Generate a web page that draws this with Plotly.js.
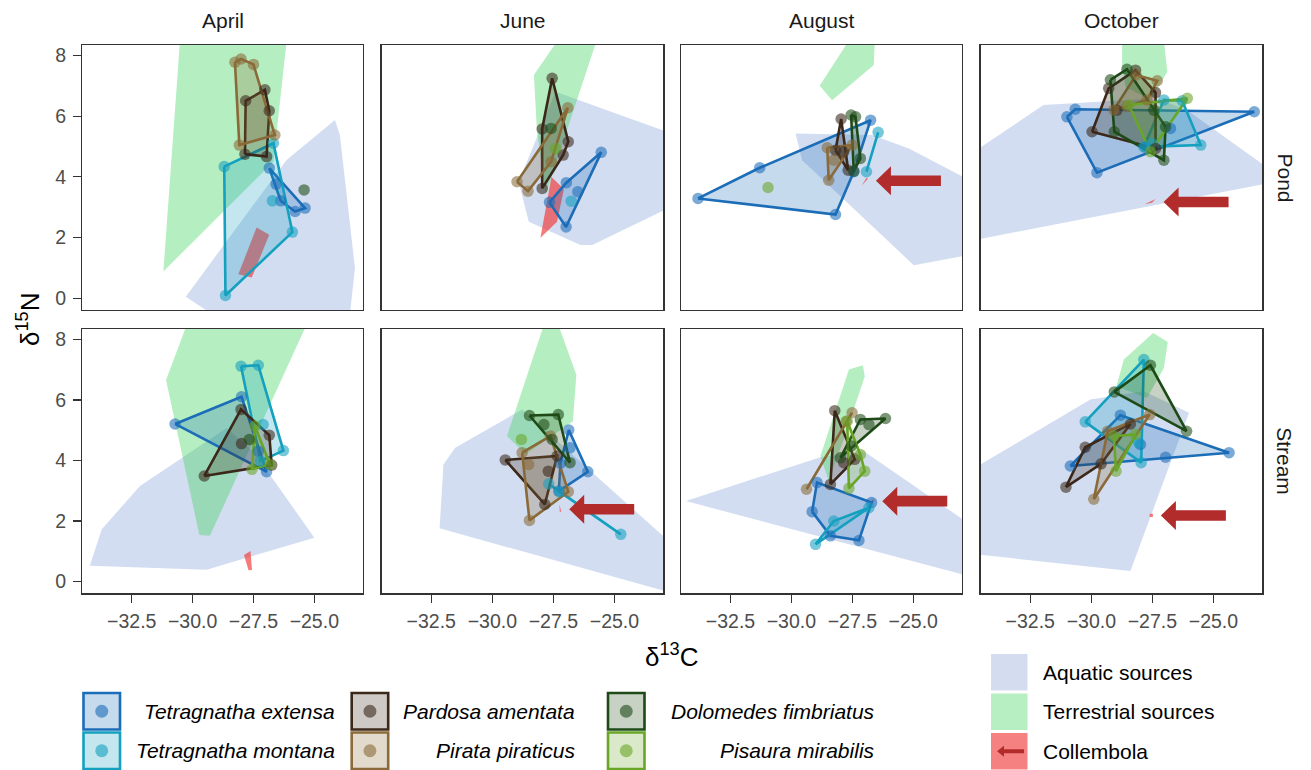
<!DOCTYPE html>
<html><head><meta charset="utf-8">
<script src="https://cdn.plot.ly/plotly-3.0.1.min.js"></script>
<style>body{margin:0;background:#fff}#chart{width:1311px;height:770px}</style>
</head><body><div id="chart"></div>
<script>
// ---------------- DATA (panel: 1-4 = Pond Apr..Oct, 5-8 = Stream Apr..Oct) ----------------
const months = ['April','June','August','October'];
const sites = ['Pond','Stream'];
const speciesNames = ['Tetragnatha extensa','Tetragnatha montana','Pardosa amentata','Pirata piraticus','Dolomedes fimbriatus','Pisaura mirabilis'];
const sourceNames = ['Aquatic sources','Terrestrial sources','Collembola'];

const extensaPanel = [1,1,1,1,1, 2,2,2,2,2, 3,3,3,3,3, 4,4,4,4,4,4, 5,5,5,5, 6,6,6,6,6, 7,7,7,7,7, 8,8,8,8,8];
const extensaC = [-26.85,-26.57,-26.38,-25.79,-25.38, -25.54,-26.97,-26.50,-27.66,-26.98, -33.83,-31.30,-26.75,-28.19,-27.44, -31.00,-30.66,-23.33,-29.77,-26.76,-27.78, -30.72,-27.99,-26.96,-27.30, -26.87,-26.09,-27.21,-27.28,-26.82, -28.95,-29.15,-28.40,-27.23,-26.71, -30.86,-28.81,-24.36,-26.96,-27.99];
const extensaN = [4.29,3.76,3.21,2.86,2.97, 4.81,3.81,3.51,3.16,2.35, 3.29,4.30,5.87,2.76,4.17, 5.98,6.23,6.15,4.14,5.60,4.99, 5.21,6.11,3.63,4.31, 5.01,3.63,3.91,2.99,4.42, 3.27,2.31,1.51,1.36,2.61, 3.82,5.50,4.26,4.11,4.53];

const montanaPanel = [1,1,1,1,1, 2, 3,3, 4,4,4,4,4, 5,5,5,5,5, 6,6,6, 7,7,7, 8,8,8,8];
const montanaC = [-28.70,-26.68,-25.90,-28.65,-26.72, -26.77, -26.44,-26.92, -27.03,-26.28,-25.52,-27.85,-27.51, -28.01,-27.30,-26.27,-27.10,-27.21, -27.69,-27.25,-24.74, -29.01,-26.82,-28.26, -30.25,-27.85,-27.96,-28.06];
const montanaN = [4.34,5.11,2.18,0.09,3.21, 3.20, 5.47,4.17, 6.54,6.51,5.05,4.99,5.10, 7.12,7.15,4.33,5.19,3.98, 3.23,2.97,1.56, 1.23,2.44,2.00, 5.28,7.34,3.93,4.59];

const pardosaPanel = [1,1,1,1,1, 2,2,2,2,2, 3,3,3,3, 4,4,4,4,4,4, 5,5,5,5,5, 6,6,6,6, 7,7,7,7, 8,8,8,8];
const pardosaC = [-27.82,-27.03,-26.85,-26.96,-27.85, -27.55,-27.96,-26.89,-27.10,-27.96, -27.96,-28.19,-27.67,-27.85, -29.97,-29.29,-28.19,-27.37,-27.37,-28.95, -29.52,-28.01,-26.85,-26.75,-27.99, -29.47,-27.35,-27.85,-27.71, -28.22,-28.40,-27.40,-27.85, -31.04,-30.25,-28.40,-29.60];
const pardosaN = [6.51,6.87,6.18,4.67,4.75, 7.25,5.58,5.16,4.72,3.62, 5.91,4.88,4.22,4.83, 5.49,6.92,7.52,6.78,4.94,6.20, 3.49,5.69,4.84,3.85,4.56, 4.02,4.15,2.55,3.65, 5.65,3.21,4.04,3.93, 3.12,4.44,5.21,3.89];

const pirataPanel = [1,1,1,1,1, 2,2,2,2, 3,3,3,3, 4,4,4,4,4, 6,6,6,6,6, 7,7,7, 8,8,8];
const pirataC = [-28.26,-28.01,-27.50,-26.62,-28.08, -26.91,-28.99,-28.54,-27.59, -28.53,-27.51,-28.47,-28.26, -28.17,-27.30,-29.08,-27.72,-28.54, -28.78,-27.62,-26.89,-28.48,-28.51, -29.38,-27.51,-27.75, -29.90,-27.61,-29.33];
const pirataN = [7.78,7.89,7.71,5.38,5.05, 6.28,3.84,3.53,4.50, 4.96,5.05,3.89,4.55, 7.36,7.17,6.21,6.54,6.32, 4.26,4.81,2.97,2.02,3.87, 3.05,5.58,5.30, 2.72,5.52,4.97];

const dolomedesPanel = [1, 2, 3,3,3,3, 4,4,4,4,4,4, 5, 6,6,6,6,6, 7,7,7,7,7, 8,8,8];
const dolomedesC = [-25.42, -27.59, -27.55,-27.37,-27.17,-27.44, -29.22,-28.54,-27.03,-29.06,-26.96,-27.44, -27.67, -28.48,-27.30,-26.82,-27.89,-27.55, -27.17,-26.14,-26.82,-27.54,-27.99, -29.06,-27.58,-26.10];
const dolomedesN = [3.57, 5.60, 6.04,5.98,4.61,4.19, 7.20,7.55,4.55,5.49,5.65,6.20, 4.70, 5.49,5.52,3.93,5.19,4.70, 5.36,5.39,5.19,4.48,4.09, 6.27,7.15,4.97];

const pisauraPanel = [2, 3, 4,4,4, 5,5,5, 6, 7,7,7,7, 8,8,8];
const pisauraC = [-27.41, -30.96, -28.47,-26.07,-27.58, -27.44,-26.82,-27.56, -28.81, -27.71,-27.17,-26.99,-27.64, -29.08,-28.19,-28.99];
const pisauraN = [4.94, 3.65, 6.37,6.59,4.83, 5.14,3.87,3.71, 4.70, 5.30,4.20,3.65,3.08, 4.81,4.86,3.65];

const aquaticPanel = [1,1,1,1,1,1,1, 2,2,2,2,2,2,2, 3,3,3,3,3,3,3, 4,4,4,4,4,4,4, 5,5,5,5,5,5,5, 6,6,6,6,6,6, 7,7,7,7,7, 8,8,8,8,8,8];
const aquaticC = [-24.15,-23.95,-23.33,-23.54,-29.15,-30.28,-26.14, -27.41,-22.49,-22.49,-25.91,-26.39,-28.51,-28.92, -29.83,-26.69,-25.18,-22.58,-22.58,-24.98,-29.56, -31.96,-27.30,-26.07,-22.65,-22.65,-34.97,-34.97, -34.22,-33.73,-32.16,-28.60,-27.51,-25.00,-29.42, -32.00,-31.52,-28.78,-22.48,-22.48,-32.16, -34.33,-28.81,-27.03,-22.58,-22.58, -34.97,-30.04,-27.85,-26.00,-28.40,-34.97];
const aquaticN = [5.88,5.38,0.99,-0.55,-0.55,0.05,4.56, 6.81,5.38,3.09,1.75,1.75,2.52,3.84, 5.43,5.38,4.94,3.84,1.44,1.09,4.55, 6.37,6.59,6.20,4.22,3.81,1.89,4.74, 0.52,1.73,3.16,5.08,4.31,1.45,0.39, 3.87,4.42,5.69,1.12,-0.42,1.76, 2.66,4.11,4.31,1.84,0.15, 3.66,6.02,6.29,5.58,0.35,0.92];

const terrestrialPanel = [1,1,1,1, 2,2,2,2,2,2, 3,3,3,3,3, 4,4,4,4,4,4, 5,5,5,5,5, 6,6,6,6,6,6, 7,7,7,7,7,7, 8,8,8,8,8,8];
const terrestrialC = [-30.52,-26.14,-26.68,-31.20, -27.41,-25.77,-26.93,-27.82,-28.17,-28.30, -27.67,-26.58,-26.62,-28.33,-28.84, -28.74,-27.03,-26.89,-27.58,-28.60,-28.74, -30.24,-25.32,-29.29,-29.72,-31.09, -27.89,-27.30,-26.56,-26.70,-28.64,-29.40, -27.64,-27.07,-26.99,-27.78,-28.47,-28.81, -27.47,-26.87,-27.03,-27.72,-28.97,-28.67];
const terrestrialN = [8.46,8.46,4.50,0.88, 8.40,8.40,5.60,3.40,5.49,7.36, 8.46,8.46,7.69,6.53,7.01, 8.52,8.52,7.47,6.54,6.97,7.64, 8.49,8.49,1.51,1.54,6.66, 8.49,8.49,6.84,5.30,4.20,4.81, 7.01,7.15,6.79,4.86,3.32,4.15, 8.22,7.92,7.06,6.07,6.46,7.34];

const collembolaPanel = [1,1,1,1, 2,2,2,2, 3,3,3, 4,4,4, 5,5,5,5, 6,6,6, 7,7,7, 8,8,8,8];
const collembolaC = [-27.37,-26.85,-27.57,-28.12, -27.58,-27.07,-27.35,-28.03, -27.12,-26.92,-26.86, -27.82,-27.37,-27.51, -27.89,-27.62,-27.56,-27.70, -27.25,-27.18,-27.24, -26.71,-26.60,-26.66, -27.61,-27.48,-27.48,-27.61];
const collembolaN = [2.33,2.09,0.68,0.79, 4.00,3.60,2.52,1.99, 3.71,3.97,3.94, 3.10,3.27,3.15, 0.88,1.01,0.38,0.37, 2.55,2.31,2.31, 2.72,2.70,2.55, 2.24,2.24,2.13,2.13];
const arrowPanels = [3,4,6,7,8];

// ---------------- STYLE ----------------
const W = 1311, H = 770;
const FONT = 'Liberation Sans, Arial, Helvetica, sans-serif';
const speciesRGB = [[27,109,184],[20,160,191],[59,40,25],[138,106,56],[30,74,23],[105,166,40]];
const species = [
  {p: extensaPanel, c: extensaC, n: extensaN},
  {p: montanaPanel, c: montanaC, n: montanaN},
  {p: pardosaPanel, c: pardosaC, n: pardosaN},
  {p: pirataPanel, c: pirataC, n: pirataN},
  {p: dolomedesPanel, c: dolomedesC, n: dolomedesN},
  {p: pisauraPanel, c: pisauraC, n: pisauraN}
];
const aquaticFill = 'rgba(106,143,208,0.30)';
const terrFill = 'rgba(60,210,90,0.38)';
const collFill = 'rgba(240,60,60,0.68)';
const arrowCol = '#B22C2C';
const rgba = (c,a) => `rgba(${c[0]},${c[1]},${c[2]},${a})`;

const colL = [82.3, 381.7, 681, 980.7], colR = [363, 663.3, 962, 1262.3];
const rowT = [45, 329], rowB = [310, 593.3];
const xRange = [-34.53, -23.0], yRange = [-0.39, 8.35];
const X = px => px / W, Y = py => 1 - py / H;
const axName = (p, l) => l + (p === 1 ? '' : p);
const axKey = (p, l) => l + 'axis' + (p === 1 ? '' : p);

function hull(pts) {
  if (pts.length < 3) return pts.slice();
  const s = pts.slice().sort((a, b) => a[0] - b[0] || a[1] - b[1]);
  const cr = (o, a, b) => (a[0]-o[0])*(b[1]-o[1]) - (a[1]-o[1])*(b[0]-o[0]);
  const lo = [], up = [];
  for (const q of s) { while (lo.length >= 2 && cr(lo[lo.length-2], lo[lo.length-1], q) <= 0) lo.pop(); lo.push(q); }
  for (let i = s.length - 1; i >= 0; i--) { const q = s[i]; while (up.length >= 2 && cr(up[up.length-2], up[up.length-1], q) <= 0) up.pop(); up.push(q); }
  lo.pop(); up.pop();
  return lo.concat(up);
}
function sel(pa, ca, na, p) { const r = []; for (let i = 0; i < pa.length; i++) if (pa[i] === p) r.push([ca[i], na[i]]); return r; }
function poly(pts, p, fill, lineColor, lw) {
  if (pts.length < 2) return null;
  const h = hull(pts); const xs = h.map(q => q[0]), ys = h.map(q => q[1]);
  xs.push(xs[0]); ys.push(ys[0]);
  return {type:'scatter', x:xs, y:ys, xaxis:axName(p,'x'), yaxis:axName(p,'y'),
    mode: lineColor ? 'lines' : 'none', fill:'toself', fillcolor:fill,
    line:{color: lineColor || 'rgba(0,0,0,0)', width: lw || 0}, hoverinfo:'skip'};
}

const traces = [];
const layout = {width:W, height:H, margin:{l:0,r:0,t:0,b:0}, paper_bgcolor:'#fff', plot_bgcolor:'#fff',
  showlegend:false, font:{family:FONT}, shapes:[], annotations:[]};

function ann(o) { return Object.assign({xref:'paper', yref:'paper', showarrow:false, xanchor:'center', yanchor:'middle'}, o); }

for (let p = 1; p <= 8; p++) {
  const r = p <= 4 ? 0 : 1, c = (p - 1) % 4;
  const bottom = r === 1, left = c === 0;
  layout[axKey(p,'x')] = {domain:[X(colL[c]), X(colR[c])], anchor:axName(p,'y'), range:xRange,
    showgrid:false, zeroline:false, showline:true, mirror:true, linecolor:'#333', linewidth:1.3,
    ticks: bottom ? 'outside' : '', ticklen:8, tickwidth:1.2, tickcolor:'#333',
    showticklabels: bottom, tick0:-32.5, dtick:2.5, tickformat:'.1f', ticklabelstandoff:2,
    tickfont:{size:19.5, color:'#4d4d4d', family:FONT}};
  layout[axKey(p,'y')] = {domain:[Y(rowB[r]), Y(rowT[r])], anchor:axName(p,'x'), range:yRange,
    showgrid:false, zeroline:false, showline:true, mirror:true, linecolor:'#333', linewidth:1.3,
    ticks: left ? 'outside' : '', ticklen:8, tickwidth:1.2, tickcolor:'#333',
    showticklabels: left, tick0:0, dtick:2, ticklabelstandoff:3,
    tickfont:{size:19.5, color:'#4d4d4d', family:FONT}};

  const a = poly(sel(aquaticPanel, aquaticC, aquaticN, p), p, aquaticFill); if (a) traces.push(a);
  const t = poly(sel(terrestrialPanel, terrestrialC, terrestrialN, p), p, terrFill); if (t) traces.push(t);
  const cl = poly(sel(collembolaPanel, collembolaC, collembolaN, p), p, collFill); if (cl) traces.push(cl);

  species.forEach((sp, i) => {
    const h = poly(sel(sp.p, sp.c, sp.n, p), p, rgba(speciesRGB[i], 0.25), rgba(speciesRGB[i], 1), 2.6);
    if (h) traces.push(h);
  });
  species.forEach((sp, i) => {
    const pts = sel(sp.p, sp.c, sp.n, p);
    if (!pts.length) return;
    traces.push({type:'scatter', mode:'markers', x:pts.map(q=>q[0]), y:pts.map(q=>q[1]),
      xaxis:axName(p,'x'), yaxis:axName(p,'y'), hoverinfo:'skip',
      marker:{size:11.5, color:rgba(speciesRGB[i], 0.58), line:{width:0}}});
  });

  if (arrowPanels.includes(p)) {
    // left-pointing arrow drawn as a pixel-sized shape anchored at the Collembola hull
    const cp = sel(collembolaPanel, collembolaC, collembolaN, p);
    const xm = Math.max(...cp.map(q => q[0]));
    const ym = cp.reduce((s, q) => s + q[1], 0) / cp.length;
    const s0 = 8, hl = 15, hh = 14.5, sh = 5.3, len = 65;
    layout.shapes.push({type:'path', xref:axName(p,'x'), yref:axName(p,'y'),
      xsizemode:'pixel', ysizemode:'pixel', xanchor:xm, yanchor:ym,
      path:`M${s0},0 L${s0+hl},${hh} L${s0+hl},${sh} L${s0+len},${sh} L${s0+len},${-sh} L${s0+hl},${-sh} L${s0+hl},${-hh} Z`,
      fillcolor:arrowCol, line:{width:0}, layer:'above'});
  }
}

// strip labels
months.forEach((m, c) => layout.annotations.push(ann({x:X((colL[c]+colR[c])/2), y:Y(21),
  text:m, font:{size:21, color:'#1a1a1a', family:FONT}})));
sites.forEach((s, r) => layout.annotations.push(ann({x:X(1285), y:Y((rowT[r]+rowB[r])/2),
  text:s, textangle:90, font:{size:21, color:'#1a1a1a', family:FONT}})));

// axis titles
layout.annotations.push(ann({x:X(672), y:Y(655), text:'δ<sup>13</sup>C', font:{size:26, color:'#000', family:FONT}}));
layout.annotations.push(ann({x:X(28), y:Y(319), text:'δ<sup>15</sup>N', textangle:-90, font:{size:26, color:'#000', family:FONT}}));

// species legend
const boxX = [83.5, 351.7, 608], boxY = [693, 732.5], txtR = [337, 577, 877], bs = 36.5;
speciesNames.forEach((nm, i) => {
  const c = Math.floor(i / 2), r = i % 2, col = speciesRGB[i];
  const l = boxX[c], t = boxY[r];
  layout.shapes.push({type:'rect', xref:'paper', yref:'paper', x0:X(l), x1:X(l+bs), y0:Y(t+bs), y1:Y(t),
    line:{color:rgba(col,1), width:2.6}, fillcolor:rgba(col,0.25)});
  const cx = l + bs/2, cy = t + bs/2, rr = 6.5;
  layout.shapes.push({type:'circle', xref:'paper', yref:'paper', x0:X(cx-rr), x1:X(cx+rr), y0:Y(cy+rr), y1:Y(cy-rr),
    line:{width:0}, fillcolor:rgba(col,0.6)});
  layout.annotations.push(ann({x:X(txtR[c]), y:Y(cy), xanchor:'right',
    text:'<i>'+nm+'</i>', font:{size:21, color:'#000', family:FONT}}));
});

// source legend
const srcFill = ['#D3DDEF', '#B7EFC2', '#F58181'];
const srcY = [654, 693.5, 733];
sourceNames.forEach((nm, i) => {
  const l = 991, t = srcY[i];
  layout.shapes.push({type:'rect', xref:'paper', yref:'paper', x0:X(l), x1:X(l+bs), y0:Y(t+bs), y1:Y(t),
    line:{width:0}, fillcolor:srcFill[i]});
  layout.annotations.push(ann({x:X(1041), y:Y(t+bs/2), xanchor:'left',
    text:nm, font:{size:21, color:'#000', family:FONT}}));
});
// small arrow inside the Collembola key
{
  const tx = 997, ty = 733 + bs/2, hl = 7, hh = 5.5, sh = 1.9, len = 27;
  const P = (dx, dy) => `${X(tx+dx)},${Y(ty+dy)}`;
  layout.shapes.push({type:'path', xref:'paper', yref:'paper',
    path:`M${P(0,0)} L${P(hl,-hh)} L${P(hl,-sh)} L${P(len,-sh)} L${P(len,sh)} L${P(hl,sh)} L${P(hl,hh)} Z`,
    fillcolor:arrowCol, line:{width:0}});
}

Plotly.newPlot('chart', traces, layout, {displayModeBar:false, staticPlot:true});
</script>
</body></html>
